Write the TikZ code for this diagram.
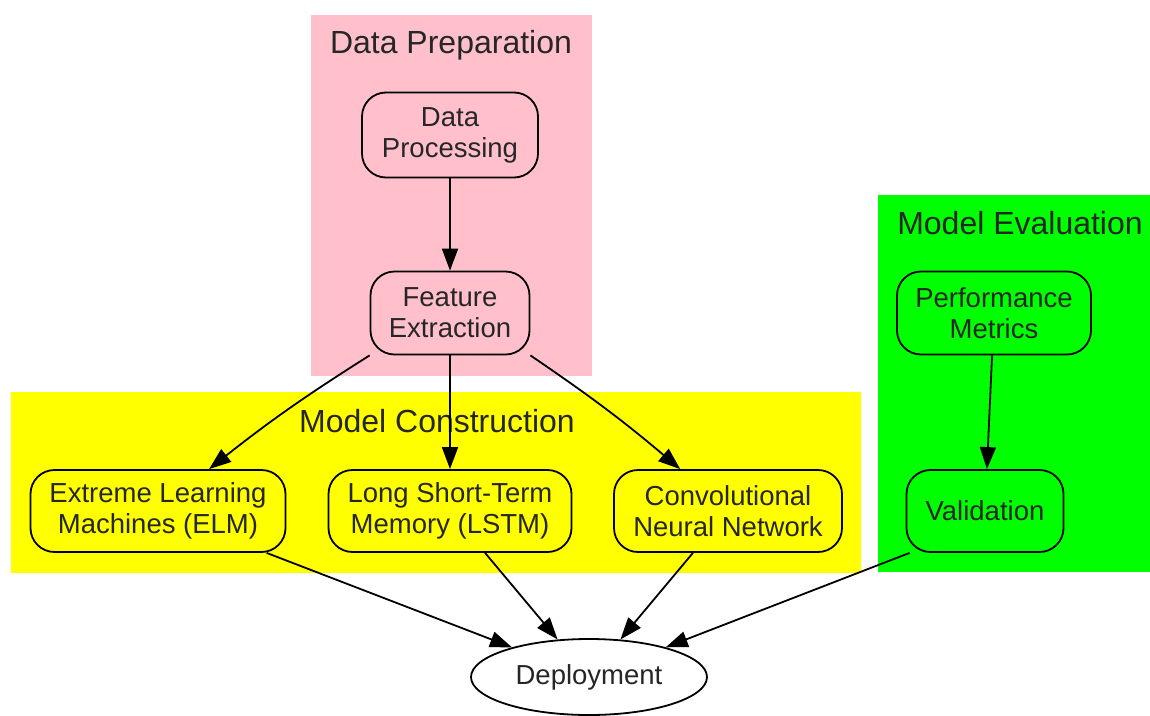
\documentclass[tikz,border=0pt]{standalone}
\usepackage{fontspec}
\setmainfont{Liberation Sans}
\usetikzlibrary{arrows.meta,shapes.geometric}
\definecolor{cpink}{RGB}{255,192,203}
\definecolor{cyellow}{RGB}{255,255,0}
\definecolor{cgreen}{RGB}{0,255,0}
\begin{document}
\begin{tikzpicture}[x=1pt,y=-1pt,
  box/.style={draw=black,line width=1.8pt,rounded corners=24pt,align=center,
    text=black!85,font=\fontsize{27.5}{31}\selectfont,inner sep=0pt},
  title/.style={text=black!85,font=\fontsize{32}{36}\selectfont,inner sep=0pt},
  arr/.style={line width=1.8pt,-{Triangle[length=22pt,width=16pt]}}]
\useasboundingbox (0,0) rectangle (1150,715);
\fill[white] (0,0) rectangle (1150,715);
% clusters
\fill[cpink] (311,15) rectangle (592,376);
\fill[cyellow] (11,392) rectangle (861,573);
\fill[cgreen] (878,195) rectangle (1150,572);
\node[title] (t1) at (451,45) {Data Preparation};
\node[title] (t2) at (437,421) {Model Construction};
\node[title] (t3) at (1020,223) {Model Evaluation};
% nodes
\node[box,fill=cpink,minimum width=176pt,minimum height=85pt] (dp) at (450,135) {Data\\Processing};
\node[box,fill=cpink,minimum width=159pt,minimum height=83pt] (fe) at (450,313) {Feature\\Extraction};
\node[box,fill=cyellow,minimum width=255pt,minimum height=82pt] (elm) at (158,511) {Extreme Learning\\Machines (ELM)};
\node[box,fill=cyellow,minimum width=243pt,minimum height=82pt] (lstm) at (450,511) {Long Short-Term\\Memory (LSTM)};
\node[box,fill=cyellow,minimum width=228pt,minimum height=82pt] (cnn) at (728,511) {Convolutional\\Neural Network};
\node[box,fill=cgreen,minimum width=194pt,minimum height=83pt] (pm) at (994,313) {Performance\\Metrics};
\node[box,fill=cgreen,minimum width=157pt,minimum height=82pt] (val) at (985,511) {Validation};
\node[draw=black,line width=1.8pt,ellipse,fill=white,text=black!85,font=\fontsize{27.5}{31}\selectfont,minimum width=236pt,minimum height=76pt,inner sep=0pt] (dep) at (589,677) {Deployment};
% edges
\draw[arr] (dp) -- (fe);
\draw[arr] (fe.south west) to[bend right=3] (elm);
\draw[arr] (fe) -- (lstm);
\draw[arr] (fe.south east) to[bend left=3] (cnn);
\draw[arr] (elm) -- (dep);
\draw[arr] (lstm) -- (dep);
\draw[arr] (cnn) -- (dep);
\draw[arr] ([xshift=4pt]val.south west) -- (dep);
\draw[arr] (pm) -- (val);
\end{tikzpicture}
\end{document}
